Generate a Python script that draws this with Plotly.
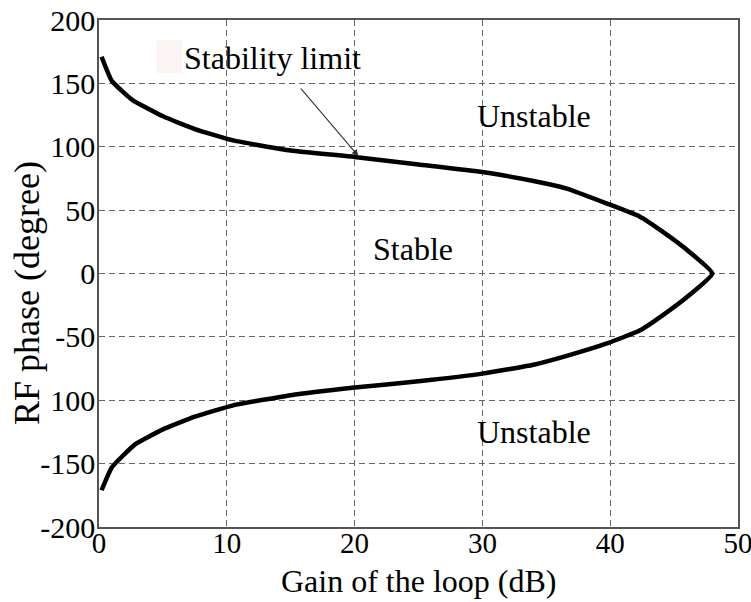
import plotly.graph_objects as go

# Stability limit curve
gain_upper = [0.2, 1.0, 2.6, 5.0, 7.5, 10.5, 15.0, 20.0, 25.0, 30.0, 34.0, 36.6, 39.8, 42.3, 44.1, 46.2, 48.0]
phase_upper = [171, 152, 137, 124, 114, 105, 97, 92, 86, 80, 73, 67, 55, 45, 33, 17, 0]
gain_lower = [48.0, 46.2, 44.1, 42.3, 39.8, 36.6, 34.0, 30.0, 25.0, 20.0, 15.0, 10.5, 7.5, 5.0, 2.8, 1.0, 0.2]
phase_lower = [0, -17, -33, -45, -55, -65, -72, -79, -85, -90, -96, -104, -113, -123, -135, -153, -171]

y_tickvals = [200, 150, 100, 50, 0, -50, -100, -150, -200]
y_ticktext = ["200", "150", "100", "50", "0", "-50", "100", "-150", "-200"]
x_tickvals = [0, 10, 20, 30, 40, 50]

FONT = "Liberation Serif"

fig = go.Figure()
fig.add_trace(go.Scatter(x=gain_upper + gain_lower[1:], y=phase_upper + phase_lower[1:],
                         mode="lines", line=dict(color="black", width=4.5, shape="spline", smoothing=0.4),
                         hoverinfo="skip", showlegend=False))

fig.update_layout(
    width=751, height=602,
    margin=dict(l=99, r=13, t=20, b=75),
    paper_bgcolor="white", plot_bgcolor="white",
    font=dict(family=FONT, size=30, color="black"),
    showlegend=False,
)
fig.update_xaxes(range=[0, 50], tickvals=x_tickvals, showgrid=True, automargin=False,
                 gridcolor="#666666", griddash="6px,4px", gridwidth=1,
                 showline=True, linecolor="#555555", linewidth=1.5, mirror=True,
                 ticks="", zeroline=False, tickfont=dict(size=29), ticklabelstandoff=-11,
                 ticklabeloverflow="allow")
fig.update_yaxes(range=[-200, 200], tickvals=y_tickvals, ticktext=y_ticktext, showgrid=True,
                 automargin=False,
                 gridcolor="#666666", griddash="6px,4px", gridwidth=1,
                 showline=True, linecolor="#555555", linewidth=1.5, mirror=True,
                 ticks="", zeroline=False, tickfont=dict(size=30), ticklabelstandoff=-4,
                 ticklabeloverflow="allow")

# axis titles
fig.add_annotation(x=0.5, y=-0.1065, xref="paper", yref="paper", yanchor="middle",
                   text="Gain of the loop (dB)", showarrow=False, font=dict(size=32))
fig.add_annotation(x=-0.1127, y=0.4615, xref="paper", yref="paper", xanchor="center", yanchor="middle",
                   text="RF phase (degree)", textangle=-90, showarrow=False, font=dict(size=36))

# faint artefact box behind the label
fig.add_shape(type="rect", xref="x", yref="y", x0=4.5, x1=6.5, y0=158, y1=184,
              fillcolor="#fcf3f3", line=dict(width=0), layer="below")

fig.add_annotation(x=20.3, y=92.5, ax=15.7, ay=147, xref="x", yref="y", axref="x", ayref="y",
                   text="", showarrow=True, arrowhead=2, arrowsize=1.2, arrowwidth=1.1, arrowcolor="#333333")
fig.add_annotation(x=13.6, y=170, xref="x", yref="y", text="Stability limit", showarrow=False,
                   font=dict(size=32))
fig.add_annotation(x=34.0, y=124, xref="x", yref="y", text="Unstable", showarrow=False,
                   font=dict(size=32))
fig.add_annotation(x=24.6, y=19, xref="x", yref="y", text="Stable", showarrow=False,
                   font=dict(size=32))
fig.add_annotation(x=34.0, y=-125, xref="x", yref="y", text="Unstable", showarrow=False,
                   font=dict(size=32))

fig.write_html("out.html", config={"displayModeBar": False},
               post_script="document.body.style.margin='0';")
